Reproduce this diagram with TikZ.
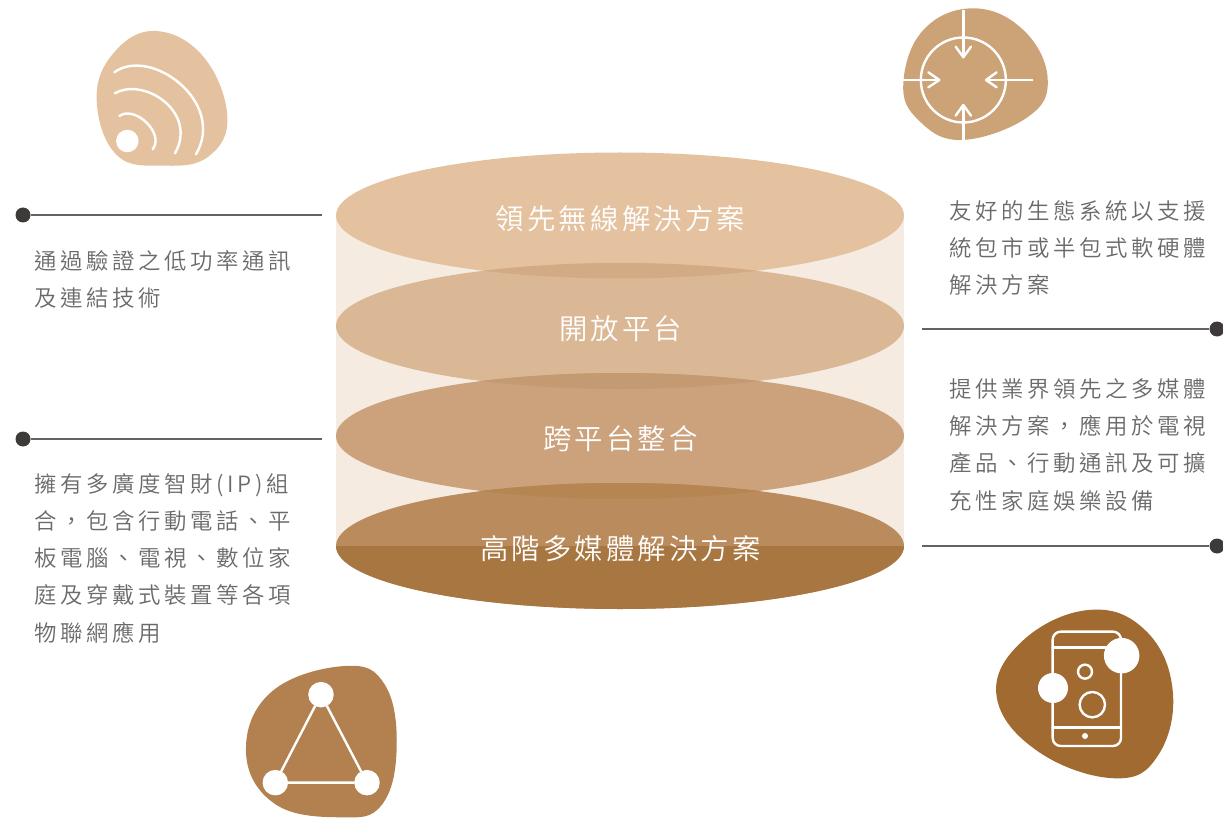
\documentclass[tikz,border=0pt]{standalone}
\usepackage{fontspec}
\newfontfamily\bodyfont[LetterSpace=16]{Noto Sans CJK TC DemiLight}
\newfontfamily\midfont[LetterSpace=11]{Noto Sans CJK TC DemiLight}
\definecolor{cA}{HTML}{E5C29F}
\definecolor{cB}{HTML}{DAB896}
\definecolor{cC}{HTML}{CCA27D}
\definecolor{cD}{HTML}{BA8B5D}
\definecolor{cE}{HTML}{A87640}
\definecolor{oAB}{HTML}{D2AB85}
\definecolor{oBC}{HTML}{C39A71}
\definecolor{oCD}{HTML}{B58552}
\definecolor{band}{HTML}{F5EBE1}
\definecolor{blobA}{HTML}{E5C29F}
\definecolor{blobB}{HTML}{CCA277}
\definecolor{blobC}{HTML}{B3804F}
\definecolor{blobD}{HTML}{A06A30}
\definecolor{ink}{HTML}{3E3A39}
\definecolor{txt}{HTML}{6A6A6A}
\tikzset{
  leaddot/.style={circle,fill=ink,draw=none,minimum size=15pt,inner sep=0pt},
  lead/.style={draw=ink!80,line width=1.1pt},
  whitedot/.style={circle,fill=white,draw=none,inner sep=0pt},
  icon/.style={draw=white,line width=2.4pt,line cap=round,line join=round},
  bodytext/.style={anchor=north west,inner sep=0pt,align=left,text=txt,font=\bodyfont\fontsize{22.4}{37.2}\selectfont},
  midtext/.style={anchor=center,inner sep=0pt,text=white,font=\midfont\fontsize{28.4}{34}\selectfont}
}
\begin{document}
\begin{tikzpicture}[x=1pt,y=-1pt]
\useasboundingbox (0,0) rectangle (1223,818);
% cylinder band
\fill[band] (336,215.5) rectangle (904,546);
% ellipses
\def\ellA{(620,215.5) ellipse [x radius=284pt,y radius=63pt]}
\def\ellB{(620,326) ellipse [x radius=284pt,y radius=63pt]}
\def\ellC{(620,436) ellipse [x radius=284pt,y radius=63pt]}
\def\ellD{(620,546) ellipse [x radius=284pt,y radius=63pt]}
\fill[cA] \ellA;
\fill[cB] \ellB;
\fill[cC] \ellC;
\fill[cD] \ellD;
\begin{scope}\clip \ellA; \fill[oAB] \ellB; \end{scope}
\begin{scope}\clip \ellB; \fill[oBC] \ellC; \end{scope}
\begin{scope}\clip \ellC; \fill[oCD] \ellD; \end{scope}
\begin{scope}\clip (330,546) rectangle (910,615); \fill[cE] \ellD; \end{scope}
\node[midtext] (t1) at (620.5,218.5) {領先無線解決方案};
\node[midtext] (t2) at (620.5,328.5) {開放平台};
\node[midtext] (t3) at (620.5,438.5) {跨平台整合};
\node[midtext] (t4) at (620.5,548.5) {高階多媒體解決方案};
% leaders
\node[leaddot] (d1) at (23,215) {};
\coordinate (e1) at (322,215);
\draw[lead] (d1) -- (e1);
\node[leaddot] (d2) at (23,439) {};
\coordinate (e2) at (322,439);
\draw[lead] (d2) -- (e2);
\node[leaddot] (d3) at (1217,329) {};
\coordinate (e3) at (922,329);
\draw[lead] (d3) -- (e3);
\node[leaddot] (d4) at (1217,546) {};
\coordinate (e4) at (922,546);
\draw[lead] (d4) -- (e4);
% texts
\node[bodytext] (b1) at (34,250.3) {通過驗證之低功率通訊\\及連結技術};
\node[bodytext] (b2) at (34,473.3) {擁有多廣度智財\hspace{4.5pt}(IP)\hspace{3.5pt}組\\合，包含行動電話、平\\板電腦、電視、數位家\\庭及穿戴式裝置等各項\\物聯網應用};
\node[bodytext] (b3) at (949,200.3) {友好的生態系統以支援\\統包市或半包式軟硬體\\解決方案};
\node[bodytext] (b4) at (949,378.3) {提供業界領先之多媒體\\解決方案，應用於電視\\產品、行動通訊及可擴\\充性家庭娛樂設備};
% blob 1 wifi
\begin{scope}[shift={(80,20)},x=0.3333pt,y=-0.3333pt]
\fill[blobA] plot[smooth cycle,tension=0.7] coordinates {(225,33)(370,110)(442,290)(385,410)(250,437)(110,405)(50,240)(100,100)};
\draw[icon] (103,157) .. controls (210,78) and (440,245) .. (348,403);
\draw[icon] (105,220) .. controls (190,170) and (355,275) .. (285,400);
\draw[icon] (118,288) .. controls (165,255) and (255,340) .. (218,388);
\node[whitedot,minimum size=22.5pt] (w1) at (142,363) {};
\end{scope}
% blob 2 target
\begin{scope}[shift={(890,0)},x=0.3333pt,y=-0.3333pt]
\fill[blobB] plot[smooth cycle,tension=0.7] coordinates {(250,25)(400,90)(473,235)(415,350)(215,420)(85,360)(40,250)(100,90)};
\begin{scope}[icon,line cap=butt]
\draw (220,240) circle (42.5pt);
\draw (220,30) -- (220,172);
\draw (40,240) -- (148,240);
\draw (430,240) -- (288,240);
\draw (220,420) -- (220,315);
\end{scope}
\draw[icon] (197,140) -- (220,172) -- (243,140);
\draw[icon] (115,217) -- (148,240) -- (115,262);
\draw[icon] (320,217) -- (288,240) -- (320,262);
\draw[icon] (197,347) -- (220,315) -- (243,347);
\end{scope}
% blob 3 phone
\begin{scope}[shift={(985,600)},x=0.3333pt,y=-0.3333pt]
\fill[blobD] plot[smooth cycle,tension=0.7] coordinates {(310,30)(480,90)(563,270)(520,465)(390,535)(160,455)(35,290)(110,125)};
\draw[icon,rounded corners=8pt] (203,95) rectangle (408,438);
\draw[icon] (203,143) -- (408,143);
\draw[icon] (203,382) -- (408,382);
\draw[icon] (300,215) circle (7pt);
\draw[icon] (322,314) circle (12.7pt);
\node[whitedot,minimum size=6pt] (p0) at (300,408) {};
\node[whitedot,minimum size=35.5pt] (p1) at (410,167) {};
\node[whitedot,minimum size=30pt] (p2) at (204,264) {};
\end{scope}
% blob 4 triangle
\begin{scope}[shift={(235,655)},x=0.3333pt,y=-0.3333pt]
\fill[blobC] plot[smooth cycle,tension=0.7] coordinates {(330,33)(450,90)(485,280)(440,450)(320,487)(120,447)(33,290)(110,110)};
\node[whitedot,minimum size=25.5pt] (ta) at (258,119) {};
\node[whitedot,minimum size=25.5pt] (tb) at (121,383) {};
\node[whitedot,minimum size=25.5pt] (tc) at (396,383) {};
\draw[icon] (ta) -- (tb) -- (tc) -- (ta);
\end{scope}
\end{tikzpicture}
\end{document}
